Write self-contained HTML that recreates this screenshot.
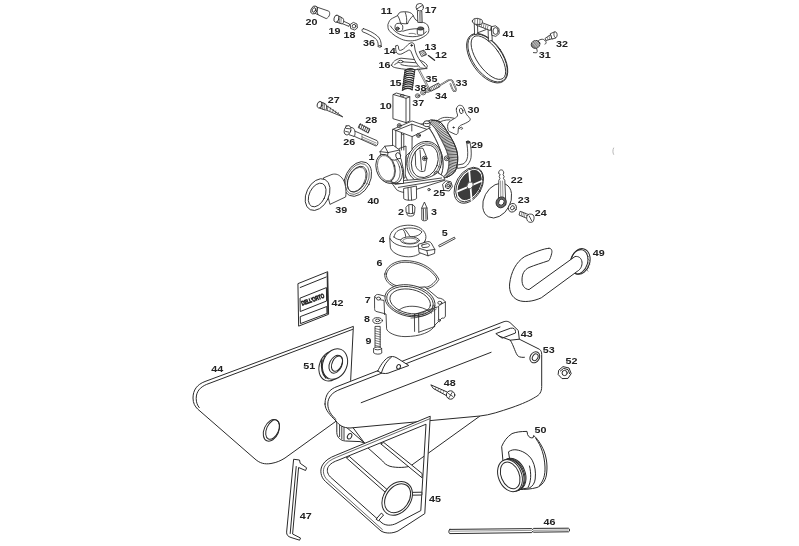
<!DOCTYPE html>
<html><head><meta charset="utf-8">
<style>
html,body{margin:0;padding:0;background:#fff;}
body{width:799px;height:546px;overflow:hidden;}
svg{display:block;}
text{font-family:"Liberation Sans",sans-serif;font-weight:bold;font-size:9.6px;fill:#222;}
</style></head><body>
<svg width="799" height="546" viewBox="0 0 799 546" style="will-change:transform">
<g fill="#fff" stroke="#2a2a2a" stroke-width="1" stroke-linejoin="round" stroke-linecap="round">
<!-- PARTS -->
<!-- plate 44 -->
<path d="M353,326.5 L205,381.5 C197,384.5 193,390 193,398 C193,403 195,406.5 197.6,409 L255,459 C260,463.5 265,464.5 271,463.5 C277,462.5 281,460.5 285,458 L337,420.5 L350.5,381 Z"/>
<path fill="none" d="M352.6,329.4 L206.6,384.4 C200,387.2 196.2,391.6 196.2,398.4 C196.2,402.4 197.4,405.4 199.2,407.6"/>
<ellipse cx="271.4" cy="430.3" rx="7.3" ry="11.4" transform="rotate(24 271.4 430.3)"/>
<ellipse cx="272.6" cy="429.6" rx="6" ry="10.3" transform="rotate(24 272.6 429.6)" fill="none"/>
<!-- grommet 51 -->
<ellipse cx="331" cy="366" rx="11.5" ry="15.5" transform="rotate(22 331 366)"/>
<path fill="none" stroke-width="1.6" d="M322,360 C321,368 322,374 326,378"/>
<path fill="none" d="M324.5,356 C322.5,364 323,373 328,379"/>
<ellipse cx="335" cy="364" rx="12" ry="15.8" transform="rotate(22 335 364)"/>
<ellipse cx="335.8" cy="364.2" rx="6.2" ry="9.4" transform="rotate(25 335.8 364.2)"/>
<ellipse cx="337" cy="363.6" rx="4.8" ry="8.2" transform="rotate(25 337 363.6)" fill="none"/>
<!-- airbox 43 -->
<path d="M336.8,421 L336.8,432.5 C337,437.5 340.5,440.6 345.5,441 L360,441.6 L364.5,443 L351,425 Z"/>
<path fill="none" stroke-width="0.9" d="M339.6,423 L339.6,436.6 M341.8,424 L341.8,438.6 M344,425 L344,439.6"/>
<ellipse cx="349.6" cy="436.2" rx="2" ry="2.9" transform="rotate(30 349.6 436.2)"/>
<path fill="none" d="M330,413 L364.5,443 M480,416 L411,465.6 C407,467.8 396,468 390,466.3 C386,465 384,463 382.6,461 L367.5,447.5"/>
<path d="M325,404 C325,394 330,389 337,386.6 L503,322 C506,320.8 508.5,321 511,323.5 L518.3,330.5 L519.3,339.2 L539.5,349.3 C541,350.5 541.7,352 541.7,354.5 L541.7,386.5 C541.7,392 539.5,395 535.5,397 C530,400.5 522,404 512,407.5 C500,411.5 490,415 480,416 L350,428 C343,428 339,425 336,421 C330,415 325,410 325,404 Z"/>
<path fill="none" d="M339.5,389.6 L500,327 M339.5,389.6 C332.5,392.3 327.8,397 327.8,404 C327.8,410 331,415 336,419.5"/>
<path fill="none" d="M496.2,333.5 L510.3,328.3 C513.5,327.5 515.5,329 515.5,331.5 L515.5,333 L502.5,338 Z M510.3,340.2 C514,346 515.5,354 518.3,356.3 C520,357.3 522.5,357.5 524.4,357.3 M499,336 L510.3,340.2 L519.3,339.2"/>
<path fill="none" d="M361.2,402.7 L491.1,352.3"/>
<path d="M377.8,371 C380,366 384,360 388,357.5 C391,356 394,356.2 397,358 L408.8,365.5 L388,373.2 C384.5,374 381,373.5 377.8,371 Z"/>
<path fill="none" d="M381.5,372.5 C383.5,366 386.5,361 391.5,357"/>
<ellipse cx="398.6" cy="366.8" rx="1.8" ry="2.3" transform="rotate(25 398.6 366.8)"/>
<ellipse cx="534.8" cy="357.3" rx="4.6" ry="5.8" transform="rotate(30 534.8 357.3)"/>
<ellipse cx="535.2" cy="357.2" rx="2.6" ry="3.6" transform="rotate(30 535.2 357.2)"/>
<!-- frame 45 -->
<path fill-rule="evenodd" d="M430.2,416.6 L424.8,513.6 L398,531 C393,533.4 386,534 381,531 L325.5,481.5 C320.5,477 319.6,470 322.5,465 C325,460.5 330,457.5 335.5,455.4 Z M426,424.6 L420.8,510.6 L396,523.6 C391.5,525.6 386,526 382,523 L330.4,477 C327,473.6 326.6,469.5 328.4,466.6 C330.4,463.4 334,461.6 338.6,460 Z"/>
<path fill="none" stroke-width="0.7" d="M429.4,418.9 L336.4,457.4 C331.6,459.3 327.4,461.8 324.8,466 C322.4,470.4 323,475.6 327.4,480 L382.4,529.6"/>
<path d="M346.6,457.6 L349.4,456.5 L389.4,491.6 L387.4,493.6 Z"/>
<path d="M381,443.6 L383.8,442.5 L422.2,473.6 L422.1,477.4 Z"/>
<path d="M410.2,492.4 L421.9,492.2 L421.8,495 L410,495.2 Z"/>
<path d="M381.6,513.4 L383.6,515 L378.4,520.8 L376.4,519.4 Z"/>
<ellipse cx="397.2" cy="498.4" rx="13.6" ry="18.2" transform="rotate(35 397.2 498.4)"/>
<ellipse cx="397.6" cy="498.2" rx="11.4" ry="15.8" transform="rotate(35 397.6 498.2)"/>
<!-- clip 47 -->
<path d="M294,459.3 L299.5,460 L300.2,463.3 L306.6,467.8 L305.6,470.5 L298.6,467.5 L292.6,534 L300.5,538 L299.6,540.2 L291,537.5 C288,536.5 286.5,535 286.6,532.5 Z"/>
<path fill="none" d="M296.2,466.5 L290.2,533.5"/>
<!-- boot 50 -->
<path d="M501.8,446.2 C504,441 507,437 512,433.6 C516,432 521,431.4 527,431.4 L527.6,434.6 C528.6,437.5 531.5,438.4 533.2,437.6 L533.6,435.5 C537,438 541,444 544,451 C547,459 547.6,467 546.4,475 C545.4,481 542,485.5 537,487.5 C531,489.2 525,489.5 519,489.5 L505,480 Z"/>
<path fill="none" d="M535.8,438.5 C541.5,446 544.5,456 545,467 C545.3,475 543.5,481 539.5,485.5"/>
<path d="M508.8,451.6 C511,450 513.5,449.6 516,449.8 C522,450.5 528.5,454 532.2,460.2 C535,465.5 536,472 535.2,479 C534.8,483 532.5,486.5 529.6,487.8 L515,490 Z"/>
<path fill="none" d="M528.2,487 C531,482 531.5,474 529.5,466"/>
<ellipse cx="513.6" cy="474.2" rx="11.6" ry="16.6" transform="rotate(-22 513.6 474.2)"/>
<ellipse cx="512.6" cy="474.8" rx="11.6" ry="16.6" transform="rotate(-22 512.6 474.8)" fill="none"/>
<ellipse cx="511.6" cy="475.2" rx="11.6" ry="16.6" transform="rotate(-22 511.6 475.2)" fill="none"/>
<ellipse cx="510" cy="475.6" rx="11.6" ry="16.6" transform="rotate(-22 510 475.6)"/>
<ellipse cx="510.2" cy="475.4" rx="9" ry="14" transform="rotate(-22 510.2 475.4)"/>
<!-- rod 46 -->
<path d="M449.8,529.4 L531.8,528.6 L532.6,529.6 L533.4,528.4 L568.4,528.2 C569.8,528.4 570,531.6 568.6,531.8 L533.4,532.2 L532.6,531.2 L531.8,532.6 L449.8,533.6 C448.4,533.4 448.4,529.6 449.8,529.4 Z"/>
<path fill="none" stroke-width="0.5" d="M450,531.2 L531.5,530.4 M533.5,530.3 L568,530"/>
<!-- hose 49 -->
<ellipse cx="580.4" cy="261.4" rx="9.4" ry="13" transform="rotate(16 580.4 261.4)"/>
<ellipse cx="579" cy="261.8" rx="8.6" ry="12.4" transform="rotate(16 579 261.8)" fill="none"/>
<path fill="none" stroke-width="0.5" d="M585.4,252 L587.6,254 M587,255 L589,257 M587.8,258.6 L589.6,260.6 M588,262.4 L589.6,264.2 M587.6,266 L589,268 M586.6,269.4 L588,271.2"/>
<path d="M548.9,248.3 C544,248.5 535,252 524.8,256.5 C516,262 511,272 509.6,284 C509,292 512,297.5 518,300.2 C524,302.6 533,301.6 541.3,297.8 L577.2,271.4 C580.4,269.6 582.4,266 582,262 C581.4,258 578.6,256 575,256.5 L529,289.6 C524,289 522,285 522,280 C522,274 524,270 529,267.5 C535,265 542,263 548.9,260.6 C550,259 551,256.5 551.6,253.8 C552.5,250.5 551.5,248 548.9,248.3 Z"/>
<!-- nut 52 -->
<path d="M559,370 L563,366.6 L569,368 L571.2,373.6 L568,378.4 L562,378.6 L558.4,374.8 Z"/>
<path fill="none" d="M560.4,371 L563.6,368.4 L568,369.6 L569.6,373.6"/>
<circle cx="564.6" cy="373" r="2.6"/>
<!-- screw 48 -->
<path d="M431.2,385 L447.6,392.2 L446.4,395.6 L433.6,388.6 Z"/>
<path fill="none" stroke-width="0.5" d="M436,387.4 L435.2,389.4 M438.6,388.6 L437.8,390.8 M441.2,389.8 L440.4,392 M443.8,391 L443,393.2"/>
<circle cx="450.6" cy="395" r="4.2"/>
<path fill="none" stroke-width="0.8" d="M448.2,393.4 L453,396.6 M452.2,392.4 L449,397.6"/>
<!-- sign 42 -->
<path d="M298.3,283.5 L327.7,271.7 L328.6,314.3 L299,326 Z"/>
<path fill="none" d="M300.2,287.5 L326.2,277 M300.4,298 L326.4,287.6 L326.6,301 L300.6,311.4 Z M300.6,316.5 L326.8,306.5 L327,313.5 L300.8,323.5 Z"/>
<path fill="none" stroke-width="1.1" d="M327.2,273 L327.8,313.4"/>
<text x="0" y="0" transform="translate(302.2 305.6) rotate(-20) scale(0.72 1)" style="font-size:6px;font-weight:normal;fill:#444">DELL'ORTO</text>
<path fill="none" stroke="#999" stroke-width="0.7" d="M613.6,148 C612.6,150 612.6,152.6 613.6,154.4"/>
<g stroke-width="0.85">
<!-- clamp 41 -->
<ellipse cx="487.2" cy="58.2" rx="15.6" ry="28.2" transform="rotate(-35 487.2 58.2)"/>
<ellipse cx="487.6" cy="58" rx="14.6" ry="27.4" transform="rotate(-35 487.6 58)" fill="none"/>
<ellipse cx="488.4" cy="57.6" rx="11.4" ry="25.4" transform="rotate(-35 488.4 57.6)"/>
<path d="M474.6,22 L477.4,22.6 L477.8,33.6 L475,34.8 Z"/>
<path d="M488.4,26 L491.8,26.8 L492.2,40.4 L488.8,41.2 Z"/>
<path fill="none" d="M477.6,32.8 L486,29.6"/>
<path d="M477.2,20.8 L491.4,26.2 L490.4,30.6 L476.4,25.2 Z"/>
<path fill="none" stroke-width="0.55" d="M480,22.6 L479.2,26 M482,23.4 L481.2,26.8 M484,24.2 L483.2,27.6 M486,25 L485.2,28.4 M488,25.8 L487.2,29.2"/>
<path d="M472.4,21 C472.6,19 474.6,18.2 477.6,18.4 L481.6,19.6 C483,20.6 482.6,23.6 481,24.4 L476,24.4 C473.6,24 472.4,22.6 472.4,21 Z"/>
<path fill="none" stroke-width="0.6" d="M475,18.8 L474.6,24 M477.6,18.6 L477.4,24.4 M480,19.2 L479.8,24.4"/>
<path d="M491.8,26.6 L495.6,25.8 L499,28.6 L499.2,33.6 L495.8,36.4 L492.2,35.4 Z"/>
<ellipse cx="495.6" cy="31" rx="2.6" ry="3.4"/>
<!-- 31 spring -->
<path fill="none" d="M533.4,52.6 L536.2,52.8 C537.4,52.6 537.6,51 536.6,48.6 M538.6,40.4 C540,39.4 542,39 543.4,39.4 L546,41.4 C546.4,42.6 546,44 545,44.2"/>
<ellipse cx="535.6" cy="44.4" rx="4.4" ry="3.9" transform="rotate(-20 535.6 44.4)" fill="#888"/>
<path fill="none" stroke="#fff" stroke-width="0.5" d="M532.6,42.6 L537,47.6 M534,41.2 L538.6,46.4 M535.6,40.6 L539.6,45"/>
<!-- 32 screw -->
<path d="M545.4,38.2 L551,34.4 L552.6,38.6 L546.4,40.4 Z"/>
<path fill="none" stroke-width="0.5" d="M547.2,37.4 L548,39.6 M549,36 L549.8,39"/>
<path d="M550.6,33.6 L554.6,31.8 C556.4,31.6 557.6,33.4 557,36.2 L555.6,38 L552.4,39 Z"/>
<path fill="none" d="M554.6,31.8 C553.4,32.6 553.4,36.6 555.6,38"/>
<!-- carb 1: filter ring -->
<path d="M431.0,120.0 L432.2,120.1 L434.0,120.3 L436.1,120.5 L438.2,121.1 L440.0,122.0 L441.6,123.4 L443.1,125.3 L444.6,127.4 L446.0,129.7 L447.5,132.0 L449.0,134.4 L450.6,137.1 L452.2,139.8 L453.6,142.5 L454.8,145.1 L455.7,147.5 L456.5,149.9 L457.1,152.2 L457.5,154.6 L457.7,156.9 L457.7,159.3 L457.6,161.9 L457.2,164.3 L456.7,166.6 L456.2,168.6 L455.5,170.2 L454.8,171.5 L453.9,172.6 L452.9,173.5 L451.9,174.4 L450.7,175.3 L449.4,176.0 L448.0,176.7 L446.8,177.2 L446.0,177.6 L438.7,177.4 L439.1,176.9 L439.6,176.1 L440.3,175.3 L440.9,174.3 L441.5,173.2 L442.0,172.0 L442.3,170.7 L442.6,169.3 L442.8,167.7 L442.9,166.1 L443.0,164.5 L443.0,163.0 L443.0,161.6 L442.9,160.2 L442.7,158.8 L442.5,157.3 L442.1,155.7 L441.6,153.9 L440.9,151.8 L440.0,149.3 L439.0,146.8 L437.9,144.2 L436.8,141.6 L435.7,139.3 L434.6,137.1 L433.5,134.9 L432.3,132.7 L431.1,130.8 L430.0,129.0 L429.0,127.5 L428.0,126.3 L427.0,125.4 L426.1,124.8 L425.2,124.2 L424.5,123.8 L424.0,123.5 Z"/>
<path fill="none" stroke="#222" stroke-width="0.75" d="M432.7,120.2 L429.6,122.9 M434.3,120.3 L430.6,123.7 M436.0,120.5 L431.7,124.6 M437.6,120.9 L432.7,125.6 M439.1,121.6 L433.6,126.6 M440.5,122.5 L434.5,127.6 M441.7,123.6 L435.3,128.8 M442.8,124.9 L436.0,129.9 M443.8,126.2 L436.7,131.1 M444.7,127.6 L437.3,132.3 M445.6,129.0 L438.0,133.5 M446.5,130.4 L438.6,134.7 M447.4,131.8 L439.3,135.9 M448.3,133.2 L439.9,137.2 M449.2,134.6 L440.6,138.4 M450.0,136.1 L441.2,139.6 M450.9,137.5 L441.8,140.8 M451.7,138.9 L442.5,142.0 M452.5,140.4 L443.1,143.2 M453.3,141.9 L443.7,144.5 M454.0,143.4 L444.3,145.7 M454.7,144.9 L444.9,146.9 M455.3,146.4 L445.4,148.2 M455.9,148.0 L446.0,149.5 M456.4,149.6 L446.5,150.7 M456.8,151.2 L446.9,152.0 M457.2,152.8 L447.3,153.3 M457.5,154.5 L447.7,154.7 M457.6,156.1 L448.1,156.0 M457.7,157.8 L448.4,157.3 M457.7,159.5 L448.6,158.7 M457.6,161.1 L448.8,160.0 M457.4,162.8 L448.9,161.4 M457.2,164.4 L448.9,162.8 M456.9,166.1 L448.9,164.2 M456.5,167.7 L448.8,165.5 M455.9,169.3 L448.6,166.9 M455.2,170.8 L448.3,168.2 M454.2,172.1 L448.0,169.6 M453.1,173.3 L447.7,170.9 M451.8,174.4 L447.2,172.2 M450.5,175.4 L446.6,173.4 M449.0,176.2 L445.8,174.5 M447.5,176.9 L444.9,175.6"/>
<path fill="none" stroke-width="0.9" d="M431.0,120.0 L432.2,120.1 L434.0,120.3 L436.1,120.5 L438.2,121.1 L440.0,122.0 L441.6,123.4 L443.1,125.3 L444.6,127.4 L446.0,129.7 L447.5,132.0 L449.0,134.4 L450.6,137.1 L452.2,139.8 L453.6,142.5 L454.8,145.1 L455.7,147.5 L456.5,149.9 L457.1,152.2 L457.5,154.6 L457.7,156.9 L457.7,159.3 L457.6,161.9 L457.2,164.3 L456.7,166.6 L456.2,168.6 L455.5,170.2 L454.8,171.5 L453.9,172.6 L452.9,173.5 L451.9,174.4 L450.7,175.3 L449.4,176.0 L448.0,176.7 L446.8,177.2 L446.0,177.6"/>
<path fill="none" stroke-width="0.7" d="M428.5,122.0 L429.1,122.5 L430.0,123.2 L431.0,124.0 L432.0,124.9 L433.1,125.9 L434.0,127.0 L434.8,128.1 L435.5,129.2 L436.2,130.4 L437.0,131.7 L437.8,133.2 L438.7,134.9 L439.8,137.0 L441.1,139.4 L442.5,142.0 L443.8,144.6 L445.0,147.2 L446.0,149.5 L446.8,151.6 L447.5,153.7 L448.0,155.6 L448.4,157.5 L448.7,159.4 L448.9,161.2 L448.9,163.1 L448.8,164.9 L448.6,166.8 L448.3,168.5 L447.9,170.1 L447.5,171.5 L447.0,172.7 L446.4,173.8 L445.7,174.7 L445.0,175.5 L444.4,176.1 L444.0,176.6"/>
<!-- body right face -->
<path d="M405,141 C406,132 414,125 424,123.5 C430,127.5 436,138 441.6,153.9 C443.5,162 443.5,170 441,175 L438.7,177.4 L410,186 L403,170 Z"/>
<ellipse cx="424.4" cy="161.6" rx="17" ry="20.6" transform="rotate(20 424.4 161.6)"/>
<ellipse cx="424.6" cy="161.4" rx="15.2" ry="18.8" transform="rotate(20 424.6 161.4)" fill="none" stroke-width="0.6"/>
<ellipse cx="424.8" cy="161.2" rx="13" ry="16.8" transform="rotate(20 424.8 161.2)"/>
<path fill="none" d="M415.4,152 C417,149 420,147.6 423,148.4 L427,158 L424.8,171 C421,172.6 417.4,170.6 415.8,166 Z M420,150 L421.6,170"/>
<circle cx="424.6" cy="158.4" r="2.2"/>
<circle cx="424.6" cy="158.4" r="0.9" fill="#333"/>
<circle cx="446.7" cy="158.3" r="2.4"/>
<circle cx="446.7" cy="158.3" r="1" fill="none"/>
<circle cx="436.5" cy="173.7" r="2.3"/>
<circle cx="436.5" cy="173.7" r="1" fill="none"/>
<!-- slide chamber -->
<path d="M392.9,129.3 L412.1,121 L430.4,127.5 L424,131 L412.1,136.6 L412,150 L406,156 L405,178 L392.9,178 Z"/>
<path fill="none" d="M392.9,129.3 L412.1,136.6 M395.8,130.6 L411.8,124.2 L426.4,129.2 M395.8,130.6 L395.8,177 M411.8,124.2 L411.8,131 M401.4,133.4 L401.4,150 M403.8,134.2 L403.8,150 M399,148.6 L406,146 L406,165"/>
<path fill="none" d="M401.4,133.4 C402,135 403,135 403.8,134.2"/>
<circle cx="399.3" cy="125.6" r="2"/>
<circle cx="399.3" cy="125.6" r="0.9"/>
<circle cx="418.5" cy="135.4" r="2"/>
<circle cx="418.5" cy="135.4" r="0.9"/>
<path d="M423.8,122.4 C424.6,120.8 428.6,120.6 429.8,122 L430,125.6 C429,127 424.8,127 423.8,125.6 Z"/>
<ellipse cx="426.9" cy="122.3" rx="3" ry="1.4"/>
<!-- base -->
<path d="M391,181.4 L418,179.4 C427,178.6 433,176.4 437.6,172.6 L443.6,176.4 L445,180.2 L408,192 C404,193 400,192 397,190 Z"/>
<path fill="none" d="M395,184.4 L441.6,178 M398.4,187.4 L443.6,179.8"/>
<path d="M404,188.4 L416.4,186 L416.6,198.4 C415,200.6 406,201 404,199 Z"/>
<path fill="none" d="M408,188 L408.4,200 M411,187.5 L411.6,200"/>
<circle cx="429" cy="189.6" r="1.2"/>
<!-- left bell -->
<path d="M380.9,154.5 L401,158.6 L403.5,170 L403.5,183.5 L390.2,183.5 C383,183 377,176 376.6,167 Z"/>
<ellipse cx="393.4" cy="169.6" rx="8.8" ry="13.8" transform="rotate(-15 393.4 169.6)" fill="none"/>
<ellipse cx="391" cy="169.2" rx="8.8" ry="13.8" transform="rotate(-15 391 169.2)" fill="none" stroke-width="0.6"/>
<path d="M380.1,151.6 L384.8,146.2 L393.4,145.4 L399.6,150 L400.4,157 L394.9,160.2 L384,158.6 Z"/>
<path fill="none" d="M384.8,146.2 L388,152.6 L399.6,150 M388,152.6 L387,158.8 M380.1,151.6 L388,152.6"/>
<ellipse cx="398.2" cy="155.8" rx="2.4" ry="3.2" transform="rotate(-15 398.2 155.8)"/>
<ellipse cx="385.6" cy="168.2" rx="9.4" ry="14.2" transform="rotate(-15 385.6 168.2)"/>
<ellipse cx="386" cy="168.2" rx="8.2" ry="13" transform="rotate(-15 386 168.2)" fill="none" stroke-width="0.6"/>
<!-- 29 tube -->
<path d="M466.5,141.6 C466.6,141 469.4,140.8 469.8,142 C471.2,147 471.6,153 471,157.6 C470.4,162 467,166.4 464,167.4 L457.4,168.4 L457.2,165 L463,164 C465.6,162.6 467.2,160 467.6,156.4 C468,151.6 467.4,146 466.5,141.6 Z"/>
<ellipse cx="468.1" cy="142.2" rx="1.7" ry="1.1" fill="#555"/>
<!-- 25 nut -->
<path d="M442.8,184 L446,180.8 L451,181.8 L452.4,186.6 L449.2,191 L444.2,190.4 Z"/>
<ellipse cx="448.2" cy="185.6" rx="2.6" ry="3.2" transform="rotate(25 448.2 185.6)"/>
<ellipse cx="448.2" cy="185.6" rx="1.2" ry="1.6" transform="rotate(25 448.2 185.6)"/>
<!-- 21 filter -->
<ellipse cx="468.8" cy="185.3" rx="12.8" ry="19.4" transform="rotate(30 468.8 185.3)"/>
<ellipse cx="469.3" cy="185.1" rx="11.6" ry="18.2" transform="rotate(30 469.3 185.1)" fill="none"/>
<ellipse cx="469.6" cy="185" rx="9.8" ry="16" transform="rotate(30 469.6 185)" fill="#3c3c3c" stroke="#333"/>
<path fill="none" stroke="#fff" stroke-width="1.8" d="M457.6,191.4 L481.6,181 M469.2,170.6 L471.6,200"/>
<ellipse cx="470" cy="185.4" rx="2.8" ry="3.6" transform="rotate(30 470 185.4)" fill="#fff" stroke="#555"/>
<!-- 22 disc -->
<ellipse cx="497.2" cy="200.6" rx="13.2" ry="18.4" transform="rotate(28 497.2 200.6)"/>
<path d="M498.6,173 L499,171.4 C499.6,169.4 502.8,169.4 503.4,171.4 L503.8,173 L503,174.6 L504.2,176.6 L503.4,178.4 L504.8,180.4 L505.6,199 L498.4,200 L498.8,180.4 L500,178.4 L499.2,176.6 L500,174.6 Z"/>
<path fill="none" stroke-width="0.5" d="M500.6,181 L500.8,199 M502.6,181 L503,199"/>
<ellipse cx="501.2" cy="202.4" rx="5" ry="5.6" transform="rotate(30 501.2 202.4)" fill="#666"/>
<ellipse cx="501.4" cy="202.2" rx="2.6" ry="3.2" transform="rotate(30 501.4 202.2)"/>
<!-- 23 washer -->
<ellipse cx="512.4" cy="207.8" rx="4" ry="4.4" transform="rotate(30 512.4 207.8)"/>
<ellipse cx="512.4" cy="207.8" rx="1.8" ry="2.2" transform="rotate(30 512.4 207.8)"/>
<!-- 24 screw -->
<path d="M520.4,211.4 L529,214.8 L528,218.8 L519.4,215.2 Z"/>
<path fill="none" stroke-width="0.5" d="M522,212 L521.2,215.6 M523.6,212.6 L522.8,216.2 M525.2,213.2 L524.4,216.8"/>
<path d="M527,215.6 C528,213.6 531,213.6 533,214.8 C534.6,216.2 534.4,220 532.8,221.8 C531.4,222.8 528.6,222.4 527.6,221 C526.6,219.6 526.4,217.4 527,215.6 Z"/>
<path fill="none" d="M529.2,216 L531.8,221"/>
<!-- 40 ring -->
<ellipse cx="357.8" cy="179" rx="12.4" ry="18.4" transform="rotate(27 357.8 179)"/>
<ellipse cx="357.4" cy="179" rx="10.6" ry="16.4" transform="rotate(27 357.4 179)" fill="none" stroke-width="0.6"/>
<ellipse cx="357.2" cy="179.2" rx="8.6" ry="13.8" transform="rotate(27 357.2 179.2)"/>
<ellipse cx="356.6" cy="179.6" rx="8" ry="13.2" transform="rotate(27 356.6 179.6)" fill="none" stroke-width="0.6"/>
<!-- 39 bell -->
<path d="M323.7,177.8 L332,174.4 C336,173.4 339,174.6 342,178 C345.5,182 346.5,190 345.7,196.9 L330.3,204.2 Z"/>
<ellipse cx="317.6" cy="194.6" rx="11.2" ry="16.8" transform="rotate(26 317.6 194.6)"/>
<ellipse cx="317.2" cy="195" rx="7.8" ry="12.6" transform="rotate(26 317.2 195)"/>
<!-- 2 jet -->
<path d="M406.8,212.6 L407.2,215 C408.6,216.6 412.6,216.6 414,215 L414.2,212.4 Z"/>
<path d="M406.2,207 L408.6,204.6 L412.8,204.6 L415,207 L414.6,212.6 C412.8,214 408.2,214 406.4,212.6 Z"/>
<path fill="none" d="M408.8,205 L409,213.4 M412.4,205 L412.6,213.4"/>
<!-- 3 needle -->
<path d="M424.6,202.4 L427,208 L427.6,219.4 C427,221 422.6,221.4 421.8,219.8 L421.8,208.2 Z"/>
<path fill="none" d="M423.4,209 L423.6,219.6 M425.8,209 L426,219.4 M421.8,208.2 L427,208"/>
<!-- 4 ring -->
<path d="M389.7,238 C389.5,231 397,225.4 407.8,225.2 C416,225 422,228 424.6,232.4 C426.2,235 426.4,238 425,241 L424,249 C421,254 415,256.8 408.6,256.8 C399,256.8 391,252 390.4,247.6 Z"/>
<path fill="none" d="M390,238.4 C392,243.6 400,247 410,247 C417,247 422.6,244.6 425,241"/>
<path fill="none" d="M394,237 C395,232 398,229.8 402.6,229.2 C405.4,231.6 406,236 405.6,239.4 C401,240.6 396.6,239.6 394,237 Z M404,228.6 C410,227.2 418,228 422,231.8 C420,235.4 415,237 410,236.6 C408,233.6 406.4,230.4 404,228.6 Z"/>
<ellipse cx="410" cy="240.4" rx="9.4" ry="3.6"/>
<ellipse cx="410.2" cy="240.8" rx="7.4" ry="2.6" fill="none" stroke-width="0.6"/>
<path d="M418.6,244.2 L427.8,241.6 C429.6,241.4 431,242.4 431.8,244 L434.8,249.4 L434.6,253.4 L428,255.8 L419.4,252.6 Z"/>
<path fill="none" d="M419.4,248.4 L426.8,250.6 L434.8,249.4 M426.8,250.6 L428,255.8"/>
<path fill="none" d="M422,245 L427.4,243.6 C428.4,243.6 429.4,244.4 429.6,245.4 C429.4,246.4 428.4,247 427.2,247.2 L423,247.6 C421.8,247.4 421.4,246 422,245 Z"/>
<!-- 5 pin -->
<path d="M439,245.2 L454.4,237.2 L455.2,238.6 L439.8,246.8 Z"/>
<!-- 6 gasket -->
<path fill="none" d="M384.8,274 C386,266 395,260.6 405,260.6 C418,260.6 430,266 437,276 L438.9,279.3 C436,285 430.4,288.2 427,288.6 C415,290.2 400,289 394,286.6 C388,284 384,279 384.8,274 Z"/>
<path fill="none" d="M386.4,274 C387.5,267.4 396,262.2 405,262.2 C417,262.2 428.6,267.4 435.4,276.4 L436.8,279 C434,283.6 429.6,286.6 426.6,287 C415,288.6 401,287.4 395,285.2 C389.4,282.8 385.8,278.6 386.4,274 Z"/>
<!-- 8 washer -->
<ellipse cx="377.6" cy="320.6" rx="4.8" ry="3"/>
<ellipse cx="377.6" cy="320.4" rx="2.2" ry="1.3"/>
<!-- 9 bolt -->
<path d="M375.4,326.4 L380.2,326.4 L380.2,348.6 L375.4,348.6 Z"/>
<path fill="none" stroke-width="0.6" d="M375.4,328.6 L380.2,329.8 M375.4,331 L380.2,332.2 M375.4,333.4 L380.2,334.6 M375.4,335.8 L380.2,337 M375.4,338.2 L380.2,339.4 M375.4,340.6 L380.2,341.8 M375.4,343 L380.2,344.2 M375.4,345.4 L380.2,346.6"/>
<path d="M374,348.4 L381.6,348.4 L381.8,353 C380.4,354.6 375.2,354.6 373.8,353 Z"/>
<ellipse cx="377.8" cy="348.4" rx="3.8" ry="1.4"/>
<!-- 7 throttle body -->
<path d="M374.6,297 C375,295 377,294 379,294.6 L388,297 L400,288 L425,287 L438,298 C441,298 444,299.6 445.4,302 L445.4,316 C445,318 443.6,318.6 442,318 L435,325 C432,332 420,336.6 405,336.6 C395,336.6 387,332 386.6,328.8 L386,314 L376,311.4 C375,311 374.6,310 374.6,309 Z"/>
<path fill="none" d="M374.6,297 C376,298.6 380,300 384,300.4 L384.6,314.6"/>
<ellipse cx="378.6" cy="298.6" rx="2" ry="1.5"/>
<ellipse cx="439.8" cy="302.8" rx="2" ry="1.5"/>
<path fill="none" d="M445.4,302 C443,303 440,305 438.6,306 L438.6,320"/>
<ellipse cx="410" cy="300.8" rx="25.4" ry="15.6" transform="rotate(12 410 300.8)"/>
<ellipse cx="410" cy="301" rx="23.6" ry="14" transform="rotate(12 410 301)" fill="none"/>
<ellipse cx="410.2" cy="301.4" rx="20.6" ry="12" transform="rotate(12 410.2 301.4)" fill="none"/>
<path fill="none" d="M398.6,310.6 C402,306.6 410,305.4 418,306.8 C424,308 429,310.4 431.6,313"/>
<path fill="none" d="M414.4,314.4 L414.6,331.4 M418.6,314 L418.8,332.2 M434.6,309.4 L434.6,326.6 M418.8,332.2 L434.6,326.6 M414.4,314.4 L437.4,307"/>
<path fill="none" stroke-width="0.6" d="M409,316.4 C418,316 428,313 435.6,307.6 M411,318.2 C420,317.6 429,314.6 436.4,309"/>
<ellipse cx="439.2" cy="320.6" rx="1" ry="1.2"/>
<!-- 20 -->
<path d="M315.1,6.5 L328.7,11.1 C330.5,12.5 330,17 326.2,18.6 L314.6,13.1 Z"/>
<ellipse cx="314.1" cy="10" rx="3" ry="4.2" transform="rotate(25 314.1 10)"/>
<ellipse cx="313.9" cy="10" rx="1.6" ry="2.4" transform="rotate(25 313.9 10)"/>
<path fill="none" d="M317.5,7.5 C316.5,9.5 316.8,12.5 318,14.5"/>
<!-- 19 -->
<path d="M343,21 L349.6,24 L349,26.4 L342.2,23.6 Z"/>
<path d="M337,15.2 L342.6,18 C344.2,19.2 344.2,22.8 342.2,24 L336.2,22 Z"/>
<path fill="none" stroke-width="0.5" d="M338.6,16 L338,22.6 M340,16.8 L339.4,23.2 M341.4,17.5 L340.8,23.6"/>
<ellipse cx="336.4" cy="18.7" rx="2.4" ry="3.6" transform="rotate(15 336.4 18.7)"/>
<!-- 18 -->
<path d="M350.6,24.2 L353.4,22.4 L357,24 L357.4,28 L354.6,30 L351,28.6 Z"/>
<circle cx="354" cy="26.2" r="1.8"/>
<!-- 36 -->
<path d="M363.4,28.6 C368,30 374,33 377.4,36 C380.2,38.4 381.4,42 381.2,46.2 L378.2,46.4 C378.4,42.6 377.4,40 375.2,38.4 C372,36 367,33.4 362.6,31.8 C361.4,31 362,28.4 363.4,28.6 Z"/>
<ellipse cx="379.8" cy="46.4" rx="1.6" ry="0.8"/>
<!-- 11 cover -->
<path d="M388,24.3 C389,21 390.5,19 392.4,18.3 L397.6,15.6 C398.5,13.4 399.6,12.2 401,12 C403.5,11.6 406,11.6 408,12 C410.6,12.6 412.4,13.6 413.2,15.6 C414,17.2 414.8,19 415.8,20 C418,21.4 421,22 423.7,22.6 C426,23.4 427.6,24.6 428,26 C428.8,27.6 429,29 428.9,30.4 C428.6,32.6 427.4,34.4 425.4,35.6 C422.6,37.6 419.6,39 416.7,40 C414,40.8 411,41 408,40.8 C405,40.6 402,39.6 399.3,38.2 C396.5,36.8 393.6,35 391.5,33 C389.4,31 388,29.4 388,27.8 Z"/>
<path fill="none" d="M390.4,26 C393,30 397,33.4 401,34.8 C406,36.6 411.6,37 416.7,36.5 C420.6,35.8 424,34.2 426.4,31.6"/>
<path fill="none" d="M397.6,15.6 C399,17.6 400,20 400.4,23 M413.2,15.6 C411,17.6 408.6,20.6 407.6,23.6 M405.2,12.4 C406.6,15.6 407,19.6 406.6,23.6 M400.4,23 C403,23.8 405,24 407.6,23.6 M402.8,31.3 C407,29.6 413,28.6 417.6,28.7"/>
<path d="M395.2,25.4 C395.4,23.8 397.4,23 399.6,23.4 C401.6,23.8 403,25.2 402.8,27.2 L402.6,29.6 C402.2,31.2 400.4,31.8 398.4,31.4 C396.4,31 395,29.6 395,28 Z"/>
<ellipse cx="397.6" cy="28.6" rx="1.6" ry="1.5" fill="#777"/>
<path d="M417.6,29 L423.6,28 L423.8,34 C422.8,35.4 418.6,35.6 417.6,34.4 Z"/>
<ellipse cx="420.6" cy="28.5" rx="3" ry="1.6" fill="#555"/>
<path fill="none" stroke-width="0.6" d="M409,33.6 C412,33 415,33.4 416,34.4"/>
<!-- 17 screw -->
<path d="M417.8,10.6 L421.8,11 L422.2,22.6 L418.2,22.4 Z"/>
<path fill="none" stroke-width="0.5" d="M419.4,12.4 L419.8,22 M420.6,12.4 L421,22"/>
<circle cx="419.7" cy="7.2" r="3.7"/>
<path fill="none" d="M416.8,9 L422.6,5.2"/>
<!-- 13 spring -->
<path d="M419.6,51.6 L424,50.2 L426.6,54.4 L422,56.4 Z"/>
<path fill="none" stroke-width="0.6" d="M420.5,52 L423.5,55.8 M421.8,51.4 L424.8,55.2 M423,50.8 L425.8,54.8"/>
<!-- 12 pin -->
<path fill="none" stroke-width="1.3" d="M428.4,55.6 L434.6,60.2"/>
<!-- 16 plate -->
<path d="M391.5,65.2 C392.6,62.6 394,61 395.9,60 C397.6,59 399,58.4 401,58.2 L419.3,60 C422.6,61 425.4,62.8 427.1,65.2 C427.6,66.6 427,68 425.4,68.6 L418.5,69.5 C411,70 403,69.4 395.9,67.8 C393.6,67.4 392,66.6 391.5,65.2 Z"/>
<path fill="none" d="M394.6,64.6 C397,62.6 399.6,61.8 402,61.8 L417,62.8 C420.6,63.4 423.4,64.4 424.8,65.8 M401,64.6 C405,66 412,66.4 418,66.2"/>
<ellipse cx="400.6" cy="61.6" rx="2.4" ry="1.3"/>
<!-- 14 lever -->
<path d="M395.8,46 C395.4,48 395.6,51 396.8,53 C398,54.4 400,54.6 402,53.8 C404.6,52.6 406.6,51 408.6,50.2 C410,49.8 410.8,50.6 411.2,52 L414.6,60 C416.6,63.6 418.6,66.4 420.6,68 L427.1,68.7 C424,65.6 421,62 418.8,58.6 C416.6,55 415,51 414.6,47 L414.2,44.2 C413.6,43 412.4,42.6 411.2,42.8 C409.4,43.2 408,44.4 406.8,45.8 C404.8,48 402.6,50 400.4,50.4 C399,50.6 398.6,49.4 398.6,48 L398.4,46.2 C398,45 396.4,45 395.8,46 Z"/>
<circle cx="411.6" cy="45.4" r="0.8" fill="#333"/>
<!-- 15 spring -->
<path d="M405,70 L414.8,70 L412.2,89.6 L402.4,89.6 Z" fill="#fff" stroke="none"/>
<path fill="none" stroke-width="1.35" d="M405.0,70.6 C408.0,68.2 411.8,68.4 414.8,70.0 M404.7,72.8 C407.7,70.4 411.5,70.6 414.5,72.2 M404.4,75.0 C407.4,72.6 411.2,72.8 414.2,74.4 M404.1,77.1 C407.1,74.7 410.9,74.9 413.9,76.5 M403.8,79.3 C406.8,76.9 410.6,77.1 413.6,78.7 M403.6,81.5 C406.6,79.1 410.4,79.3 413.4,80.9 M403.3,83.7 C406.3,81.3 410.1,81.5 413.1,83.1 M403.0,85.8 C406.0,83.4 409.8,83.6 412.8,85.2 M402.7,88.0 C405.7,85.6 409.5,85.8 412.5,87.4 M402.4,90.2 C405.4,87.8 409.2,88.0 412.2,89.6"/>
<path fill="none" stroke-width="0.8" d="M405,70.6 L402.4,90 M414.8,70.4 L412.2,90"/>
<!-- 35 wire -->
<path fill="none" stroke-width="0.6" d="M417.4,68.6 L427.6,87.8 M418.8,68.2 L428.8,87.2"/>
<!-- 38 / 37 washers -->
<ellipse cx="417.6" cy="95.8" rx="2.3" ry="2" stroke-width="0.7"/>
<ellipse cx="417.6" cy="95.8" rx="1" ry="0.8" stroke-width="0.6"/>
<ellipse cx="423.2" cy="92.6" rx="2.6" ry="2.3" stroke-width="0.7"/>
<ellipse cx="423.2" cy="92.6" rx="1.2" ry="1" stroke-width="0.6"/>
<ellipse cx="427.8" cy="90.2" rx="2.4" ry="2.2" stroke-width="0.7"/>
<ellipse cx="427.8" cy="90.2" rx="1.1" ry="1" stroke-width="0.6"/>
<!-- 34 spring -->
<path d="M429.8,87.6 L438.6,83 L440,86.4 L431,91.2 Z"/>
<path fill="none" stroke-width="0.6" d="M431,87.5 L432.4,90.6 M432.6,86.6 L434,89.8 M434.2,85.8 L435.6,89 M435.8,85 L437.2,88.2 M437.4,84.2 L438.8,87.4"/>
<!-- 33 lever -->
<path fill="none" stroke-width="1.6" stroke="#2a2a2a" d="M439.4,85.6 L448.4,80.2 C450,79.4 451.6,79.8 452.6,81.4 L455.8,88.6 C456.4,90.4 455.4,91.6 453.8,91 C452.6,90.4 451.6,87 450.4,84"/>
<path fill="none" stroke-width="0.7" stroke="#fff" d="M439.4,85.6 L448.4,80.2 C450,79.4 451.6,79.8 452.6,81.4 L455.8,88.6 C456.4,90.4 455.4,91.6 453.8,91 C452.6,90.4 451.6,87 450.4,84"/>
<!-- 10 slide -->
<path d="M393.3,94.5 L396.3,93 L409.8,96.8 L409.8,121 L406,122.6 L393.3,118.8 Z"/>
<path fill="none" d="M393.3,94.5 L406,98.3 L409.8,96.8 M406,98.3 L406,122.6"/>
<path fill="none" d="M400.4,95 C401.5,94.2 403.6,94.6 404.6,95.6 C404,96.6 401.8,96.6 400.4,95.6 Z"/>
<!-- 27 screw -->
<path d="M325,104.6 L342.8,116.9 L325.6,109.8 Z"/>
<path fill="none" stroke-width="0.6" d="M328,106.2 L327.4,109.6 M330.6,107.8 L330,110.6 M333.2,109.4 L332.8,111.8 M335.8,111 L335.4,112.8 M338.4,112.6 L338,113.8"/>
<path d="M320.2,101.6 L325.4,103.8 C327,104.8 327,109.6 325.4,110.2 L319.4,108 Z"/>
<ellipse cx="319.6" cy="104.8" rx="2.4" ry="3.3" transform="rotate(20 319.6 104.8)"/>
<path fill="none" stroke-width="0.6" d="M321.6,102.4 L321,108.4 M323.2,103 L322.6,109 M324.6,103.6 L324.2,109.6"/>
<!-- 28 spring -->
<path d="M360.2,124.2 L369.8,129.4 L368.2,132.8 L358.6,127.6 Z"/>
<path fill="none" stroke-width="0.8" d="M360.6,123.6 L359,128 M362.4,124.6 L360.8,129 M364.2,125.6 L362.6,130 M366,126.6 L364.4,131 M367.8,127.6 L366.2,132 M369.6,128.6 L368,133"/>
<!-- 26 screw -->
<path d="M353.6,130.6 L377,140.6 C378.6,141.6 378,145.6 376,146 L353.6,136 Z"/>
<path fill="none" stroke-width="0.5" d="M362,136.8 L376.2,143 M361.6,138.6 L375.6,144.6 M362,134.6 L362,139.6"/>
<path d="M346.3,125.8 L353,128 C355.4,129 355.6,135.6 354,136.4 L349.3,134.8 Z"/>
<ellipse cx="347.6" cy="130.2" rx="3.2" ry="4.8" transform="rotate(15 347.6 130.2)"/>
<path fill="none" d="M346.2,128.4 L349.6,128.8 M345.6,131.4 L349,132.2"/>
<!-- 30 bracket -->
<path fill="none" d="M436.6,121.3 C439,119 442,117.6 444.7,117.4 C448,117.2 451,117.6 454.2,118.3 M438.8,122.6 C441,121 445,119.8 449.8,119.8"/>
<path d="M456.4,108.8 C457,106.6 458,105.5 459.6,105.3 C461,105.2 462.3,105.8 463,106.6 C464,108 464.6,110 465.2,111.6 C466,113.8 467,115.6 469.2,117.4 C470.4,118.4 470.6,119.8 469.6,120.8 C467.6,122.4 464,124 461.5,124.9 C460,125.6 459,126.4 458.4,128 L458,132.6 C457.6,134.2 456.6,134.8 455.4,134.4 L449.4,131.6 C448.2,130.6 447.6,128.6 447.6,126.4 C447.6,124 448.6,122.2 450,121.2 L454.2,118.6 C456.2,117.6 457.6,116.6 457.6,115 L456.8,112.6 C456.4,111.4 456.2,110 456.4,108.8 Z"/>
<ellipse cx="461.2" cy="111" rx="1.7" ry="2.7" transform="rotate(-15 461.2 111)"/>
<circle cx="453.5" cy="127.5" r="0.6" fill="#333"/>
<path fill="none" d="M459.4,128.6 C460.2,127 461.6,126.8 462.4,127.8 C463,128.8 462,129.6 461,129.2"/>
</g>
</g>
<g id="labels" style="will-change:transform">
<text transform="translate(305.43 24.65) scale(1.12 1)">20</text>
<text transform="translate(328.44 34.19) scale(1.12 1)">19</text>
<text transform="translate(343.50 38.40) scale(1.12 1)">18</text>
<text transform="translate(363.00 45.65) scale(1.12 1)">36</text>
<text transform="translate(380.76 14.21) scale(1.12 1)">11</text>
<text transform="translate(424.80 13.38) scale(1.12 1)">17</text>
<text transform="translate(383.65 54.14) scale(1.12 1)">14</text>
<text transform="translate(424.50 49.70) scale(1.12 1)">13</text>
<text transform="translate(435.00 58.20) scale(1.12 1)">12</text>
<text transform="translate(378.44 68.28) scale(1.12 1)">16</text>
<text transform="translate(389.63 86.04) scale(1.12 1)">15</text>
<text transform="translate(425.50 82.00) scale(1.12 1)">35</text>
<text transform="translate(414.50 90.80) scale(1.12 1)">38</text>
<text transform="translate(455.46 85.65) scale(1.12 1)">33</text>
<text transform="translate(434.90 98.86) scale(1.12 1)">34</text>
<text transform="translate(412.15 106.08) scale(1.12 1)">37</text>
<text transform="translate(379.67 109.33) scale(1.12 1)">10</text>
<text transform="translate(467.42 113.19) scale(1.12 1)">30</text>
<text transform="translate(327.65 103.38) scale(1.12 1)">27</text>
<text transform="translate(365.27 123.13) scale(1.12 1)">28</text>
<text transform="translate(343.22 144.65) scale(1.12 1)">26</text>
<text transform="translate(368.46 160.00) scale(1.12 1)">1</text>
<text transform="translate(471.00 148.44) scale(1.12 1)">29</text>
<text transform="translate(479.85 166.89) scale(1.12 1)">21</text>
<text transform="translate(510.70 182.95) scale(1.12 1)">22</text>
<text transform="translate(517.87 202.99) scale(1.12 1)">23</text>
<text transform="translate(534.73 215.51) scale(1.12 1)">24</text>
<text transform="translate(433.25 195.65) scale(1.12 1)">25</text>
<text transform="translate(367.38 203.51) scale(1.12 1)">40</text>
<text transform="translate(335.31 212.65) scale(1.12 1)">39</text>
<text transform="translate(397.98 214.65) scale(1.12 1)">2</text>
<text transform="translate(430.93 214.65) scale(1.12 1)">3</text>
<text transform="translate(379.00 243.38) scale(1.12 1)">4</text>
<text transform="translate(441.73 236.41) scale(1.12 1)">5</text>
<text transform="translate(376.60 266.40) scale(1.12 1)">6</text>
<text transform="translate(364.66 302.95) scale(1.12 1)">7</text>
<text transform="translate(331.61 305.62) scale(1.12 1)">42</text>
<text transform="translate(363.93 322.31) scale(1.12 1)">8</text>
<text transform="translate(365.62 343.78) scale(1.12 1)">9</text>
<text transform="translate(592.67 255.94) scale(1.12 1)">49</text>
<text transform="translate(520.78 336.65) scale(1.12 1)">43</text>
<text transform="translate(542.79 353.44) scale(1.12 1)">53</text>
<text transform="translate(565.42 363.96) scale(1.12 1)">52</text>
<text transform="translate(211.26 371.96) scale(1.12 1)">44</text>
<text transform="translate(303.25 368.90) scale(1.12 1)">51</text>
<text transform="translate(443.75 385.76) scale(1.12 1)">48</text>
<text transform="translate(534.40 433.25) scale(1.12 1)">50</text>
<text transform="translate(429.00 501.90) scale(1.12 1)">45</text>
<text transform="translate(299.65 519.19) scale(1.12 1)">47</text>
<text transform="translate(543.46 525.17) scale(1.12 1)">46</text>
<text transform="translate(502.50 36.50) scale(1.12 1)">41</text>
<text transform="translate(556.00 47.00) scale(1.12 1)">32</text>
<text transform="translate(538.70 57.50) scale(1.12 1)">31</text>
</g>
</svg>
</body></html>
